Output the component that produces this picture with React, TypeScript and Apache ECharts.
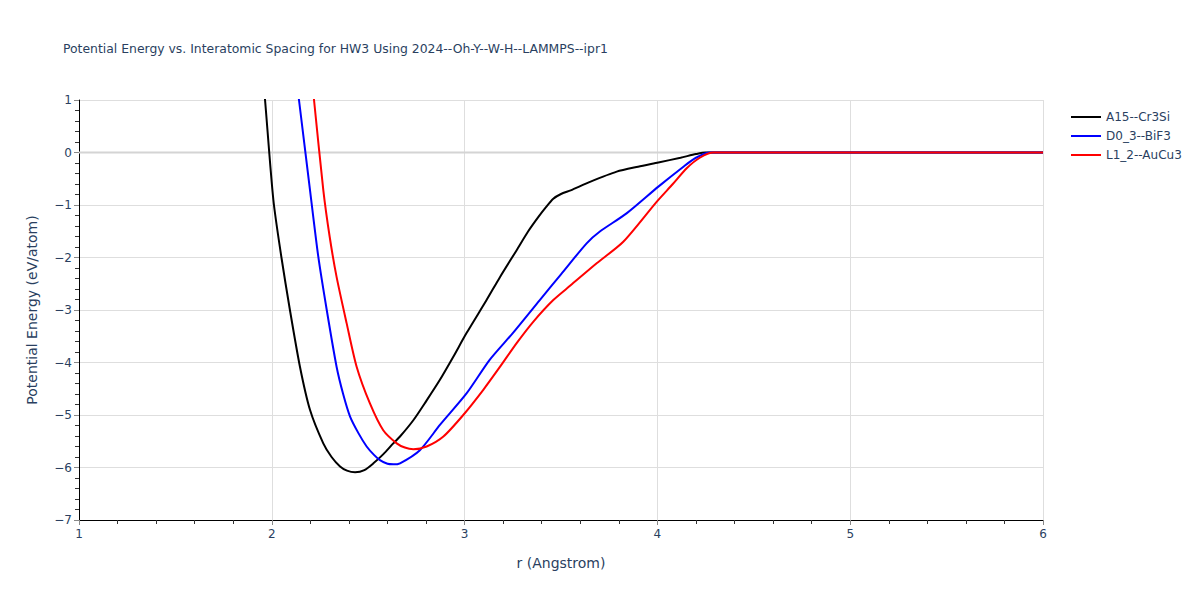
import React, { useEffect, useRef } from 'react';
import * as echarts from 'echarts';

// r (Angstrom) and energy (eV/atom)
const a15R = [1.95, 1.965, 2.008, 2.05, 2.094, 2.146, 2.198, 2.267, 2.31, 2.354, 2.39, 2.432, 2.48, 2.527, 2.58, 2.63, 2.665, 2.734, 2.8, 2.872, 2.94, 3.01, 3.114, 3.184, 3.27, 3.33, 3.38, 3.42, 3.46, 3.5, 3.55, 3.65, 3.789, 3.9, 4.005, 4.12, 4.2, 4.25, 4.3, 5, 6];
const a15E = [1.6, 1, -0.9, -2.0, -3.0, -4.08, -4.9, -5.54, -5.8, -5.98, -6.06, -6.09, -6.05, -5.92, -5.74, -5.54, -5.41, -5.1, -4.74, -4.33, -3.9, -3.44, -2.81, -2.37, -1.86, -1.5, -1.24, -1.05, -0.88, -0.79, -0.72, -0.56, -0.365, -0.27, -0.19, -0.1, -0.03, 0, 0, 0, 0];

const d03R = [2.13, 2.141, 2.198, 2.241, 2.285, 2.336, 2.37, 2.406, 2.45, 2.492, 2.53, 2.561, 2.6, 2.63, 2.665, 2.768, 2.872, 3.01, 3.13, 3.25, 3.39, 3.5, 3.633, 3.7, 3.84, 4.005, 4.135, 4.2, 4.273, 5, 6];
const d03E = [1.33, 1, -0.71, -1.98, -3.0, -4.08, -4.6, -5.03, -5.35, -5.6, -5.76, -5.86, -5.93, -5.94, -5.92, -5.67, -5.19, -4.59, -3.95, -3.44, -2.81, -2.32, -1.73, -1.51, -1.16, -0.65, -0.27, -0.1, 0, 0, 0];

const l12R = [2.21, 2.219, 2.267, 2.3, 2.336, 2.388, 2.44, 2.509, 2.578, 2.648, 2.69, 2.734, 2.803, 2.89, 2.993, 3.097, 3.184, 3.27, 3.357, 3.46, 3.55, 3.685, 3.823, 3.996, 4.08, 4.152, 4.22, 4.29, 5, 6];
const l12E = [1.32, 1, -0.71, -1.6, -2.37, -3.25, -4.08, -4.78, -5.29, -5.54, -5.62, -5.65, -5.6, -5.41, -5.0, -4.52, -4.08, -3.63, -3.22, -2.81, -2.53, -2.11, -1.7, -0.94, -0.6, -0.3, -0.1, 0, 0, 0];

const zeroR = [1, 6];
const zeroE = [0, 0];

const seriesNames = ['A15--Cr3Si', 'D0_3--BiF3', 'L1_2--AuCu3'];
const seriesColors = ['#000000', '#0000ff', '#ff0000'];

const zip = (xs: number[], ys: number[]) => xs.map((x, i) => [x, ys[i]]);

const textColor = '#2a3f5f';
const font = '"DejaVu Sans", Verdana, Arial, sans-serif';

const App: React.FC = () => {
  const chartRef = useRef<HTMLDivElement>(null);

  useEffect(() => {
    if (!chartRef.current) return;
    const chart = echarts.init(chartRef.current, undefined, { renderer: 'svg' });

    const curves = [zip(a15R, a15E), zip(d03R, d03E), zip(l12R, l12E)];

    chart.setOption({
      animation: false,
      backgroundColor: '#ffffff',
      textStyle: { fontFamily: font },
      title: {
        text: 'Potential Energy vs. Interatomic Spacing for HW3 Using 2024--Oh-Y--W-H--LAMMPS--ipr1',
        left: 58,
        top: 37,
        textStyle: { fontSize: 12.4, fontWeight: 'normal', color: textColor, fontFamily: font }
      },
      legend: {
        data: seriesNames,
        orient: 'vertical',
        left: 1066,
        top: 106,
        itemWidth: 30,
        itemHeight: 2,
        itemGap: 7,
        icon: 'rect',
        textStyle: { fontSize: 12, color: textColor, fontFamily: font }
      },
      grid: { left: 79, right: 157, top: 100, bottom: 80 },
      xAxis: {
        type: 'value',
        min: 1,
        max: 6,
        interval: 1,
        name: 'r (Angstrom)',
        nameLocation: 'middle',
        nameGap: 36,
        nameTextStyle: { fontSize: 14, color: textColor },
        axisLine: { show: true, onZero: false, lineStyle: { color: '#000', width: 1 } },
        axisTick: { show: true, length: 5, lineStyle: { color: '#888' } },
        minorTick: { show: true, splitNumber: 5, length: 4, lineStyle: { color: '#333' } },
        axisLabel: { fontSize: 12, color: textColor, margin: 8 },
        splitLine: { show: true, lineStyle: { color: '#dedede', width: 1 } }
      },
      yAxis: {
        type: 'value',
        min: -7,
        max: 1,
        interval: 1,
        name: 'Potential Energy (eV/atom)',
        nameLocation: 'middle',
        nameGap: 40,
        nameTextStyle: { fontSize: 14, color: textColor },
        axisLine: { show: true, onZero: false, lineStyle: { color: '#000', width: 1 } },
        axisTick: { show: true, length: 5, lineStyle: { color: '#888' } },
        minorTick: { show: true, splitNumber: 5, length: 4, lineStyle: { color: '#333' } },
        axisLabel: {
          fontSize: 12,
          color: textColor,
          margin: 7,
          formatter: (v: number) => (v < 0 ? '\u2212' + Math.abs(v) : String(v))
        },
        splitLine: { show: true, lineStyle: { color: '#dedede', width: 1 } }
      },
      series: [
        {
          name: 'zero',
          type: 'line',
          data: zip(zeroR, zeroE),
          symbol: 'none',
          silent: true,
          z: 1,
          lineStyle: { color: '#d4d4d4', width: 2 }
        },
        ...seriesNames.map((name, i) => ({
          name,
          type: 'line',
          data: curves[i],
          symbol: 'none',
          smooth: 0.25,
          clip: true,
          z: 3 + i,
          color: seriesColors[i],
          lineStyle: { color: seriesColors[i], width: 2 }
        }))
      ]
    });

    return () => {
      chart.dispose();
    };
  }, []);

  return <div ref={chartRef} style={{ width: 1200, height: 600, margin: -8 }} />;
};

export default App;
